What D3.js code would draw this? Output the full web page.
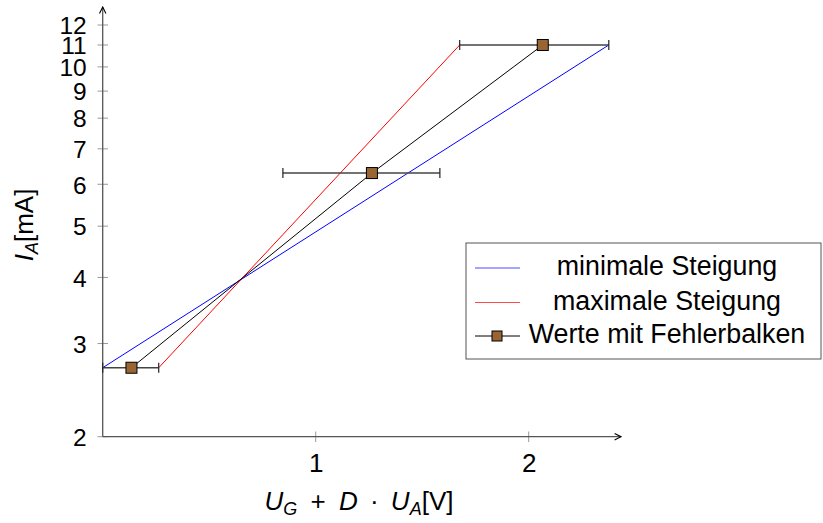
<!DOCTYPE html>
<html><head><meta charset="utf-8">
<script src="https://cdn.jsdelivr.net/npm/d3@7"></script>
<style>
body{margin:0;background:#fff;}
text{font-family:"Liberation Sans","Arimo",Arial,sans-serif;}
</style></head>
<body><svg id="c" width="823" height="523"></svg>
<script>
const xVals = [0.135, 1.264, 2.066];
const yVals = [2.7, 6.3, 11.0];
const xErrMinus = [0.135, 0.418, 0.39];
const xErrPlus = [0.128, 0.319, 0.31];
const minLine = [[0, 2.7], [2.376, 11.0]];
const maxLine = [[0.263, 2.7], [1.676, 11.0]];
const yTicks = [2,3,4,5,6,7,8,9,10,11,12];
const xTicks = [1,2];
const legendLabels = ["minimale Steigung","maximale Steigung","Werte mit Fehlerbalken"];

const svg = d3.select("#c");
const x = d3.scaleLinear().domain([0,1]).range([102.7,315.7]);
const y = d3.scaleLog().domain([2,12]).range([436.7,25]);
const fs = 26;

// axes
const yAxis = d3.axisLeft(y).tickValues(yTicks).tickFormat(d3.format("d")).tickSize(0).tickPadding(16);
const ga = svg.append("g").attr("transform","translate(102.7,0)").call(yAxis);
ga.select(".domain").remove();
ga.selectAll("text").attr("font-size",24.5).attr("fill","#000").attr("dy","0.36em");
const xAxis = d3.axisBottom(x).tickValues(xTicks).tickFormat(d3.format("d")).tickSize(0).tickPadding(0);
const gx = svg.append("g").attr("transform","translate(0,436.7)").call(xAxis);
gx.select(".domain").remove();
gx.selectAll("text").attr("font-size",fs).attr("fill","#000").attr("y",35.3).attr("dy",null);

// tick marks
svg.append("g").selectAll("line").data(yTicks).join("line")
  .attr("x1",97.5).attr("x2",108).attr("y1",d=>y(d)).attr("y2",d=>y(d))
  .attr("stroke","#999").attr("stroke-width",1);
svg.append("g").selectAll("line").data(xTicks).join("line")
  .attr("x1",d=>x(d)).attr("x2",d=>x(d)).attr("y1",431.5).attr("y2",442)
  .attr("stroke","#999").attr("stroke-width",1);

// axis lines with arrows
svg.append("defs").append("marker").attr("id","arr").attr("viewBox","0 0 10 10")
  .attr("refX",9).attr("refY",5).attr("markerWidth",8).attr("markerHeight",8)
  .attr("markerUnits","userSpaceOnUse").attr("orient","auto")
  .append("path").attr("d","M1,1 L9,5 L1,9").attr("fill","none").attr("stroke","#000").attr("stroke-width",1.4);
svg.append("line").attr("x1",102.7).attr("x2",102.7).attr("y1",436.7).attr("y2",7)
  .attr("stroke","#555").attr("stroke-width",1.3).attr("marker-end","url(#arr)");
svg.append("line").attr("x1",102.7).attr("x2",621).attr("y1",436.7).attr("y2",436.7)
  .attr("stroke","#555").attr("stroke-width",1.3).attr("marker-end","url(#arr)");

// slope lines
const line = d3.line().x(d=>x(d[0])).y(d=>y(d[1]));
svg.append("path").attr("d",line(minLine)).attr("stroke","#0000ff").attr("fill","none").attr("stroke-width",1);
svg.append("path").attr("d",line(maxLine)).attr("stroke","#ff0000").attr("fill","none").attr("stroke-width",1);

// error bars
const pts = xVals.map((v,i)=>[v,yVals[i],xErrMinus[i],xErrPlus[i]]);
const eb = svg.append("g");
pts.forEach(p=>{
  eb.append("line").attr("x1",x(p[0]-p[2])).attr("x2",x(p[0]+p[3])).attr("y1",y(p[1])).attr("y2",y(p[1]))
    .attr("stroke","#444").attr("stroke-width",1.5);
  [p[0]-p[2],p[0]+p[3]].forEach(e=>{
    eb.append("line").attr("x1",x(e)).attr("x2",x(e)).attr("y1",y(p[1])-5).attr("y2",y(p[1])+5)
      .attr("stroke","#222").attr("stroke-width",1.2);
  });
});
// data line
svg.append("path").attr("d",line(pts)).attr("stroke","#000").attr("fill","none").attr("stroke-width",1);
svg.append("g").selectAll("rect").data(pts).join("rect")
  .attr("x",d=>x(d[0])-5.5).attr("y",d=>y(d[1])-5.5).attr("width",11).attr("height",11)
  .attr("fill","#996633").attr("stroke","#000").attr("stroke-width",1);

// axis labels
const xl = svg.append("text").attr("x",359).attr("y",510).attr("text-anchor","middle").attr("font-size",fs);
xl.append("tspan").attr("font-style","italic").text("U");
xl.append("tspan").attr("font-style","italic").attr("font-size",18).attr("dy",5).text("G");
xl.append("tspan").attr("dy",-5).attr("dx",6).text(" + ");
xl.append("tspan").attr("font-style","italic").attr("dx",6).text("D");
xl.append("tspan").attr("dx",5).text(" · ");
xl.append("tspan").attr("font-style","italic").attr("dx",5).text("U");
xl.append("tspan").attr("font-style","italic").attr("font-size",18).attr("dy",5).text("A");
xl.append("tspan").attr("dy",-5).text("[V]");

const yl = svg.append("text").attr("transform","translate(32.5,225) rotate(-90)").attr("text-anchor","middle").attr("font-size",fs);
yl.append("tspan").attr("font-style","italic").text("I");
yl.append("tspan").attr("font-style","italic").attr("font-size",18).attr("dy",5).text("A");
yl.append("tspan").attr("dy",-5).text("[mA]");

// legend
const lg = svg.append("g");
lg.append("rect").attr("x",466).attr("y",243).attr("width",355).attr("height",116)
  .attr("fill","#fff").attr("stroke","#555").attr("stroke-width",1);
const rowBase = [275,309.5,343];
const colors = ["#0000ff","#ff0000","#000"];
legendLabels.forEach((t,i)=>{
  const ly = rowBase[i]-7;
  lg.append("line").attr("x1",475).attr("x2",520).attr("y1",ly).attr("y2",ly)
    .attr("stroke",colors[i]).attr("stroke-width",1).attr("opacity", i<2?0.7:1);
  if(i===2){
    lg.append("rect").attr("x",492).attr("y",ly-5).attr("width",10).attr("height",10)
      .attr("fill","#996633").attr("stroke","#000");
  }
  lg.append("text").attr("x",667).attr("y",rowBase[i]).attr("text-anchor","middle")
    .attr("font-size",26.8).text(t);
});
</script></body></html>
